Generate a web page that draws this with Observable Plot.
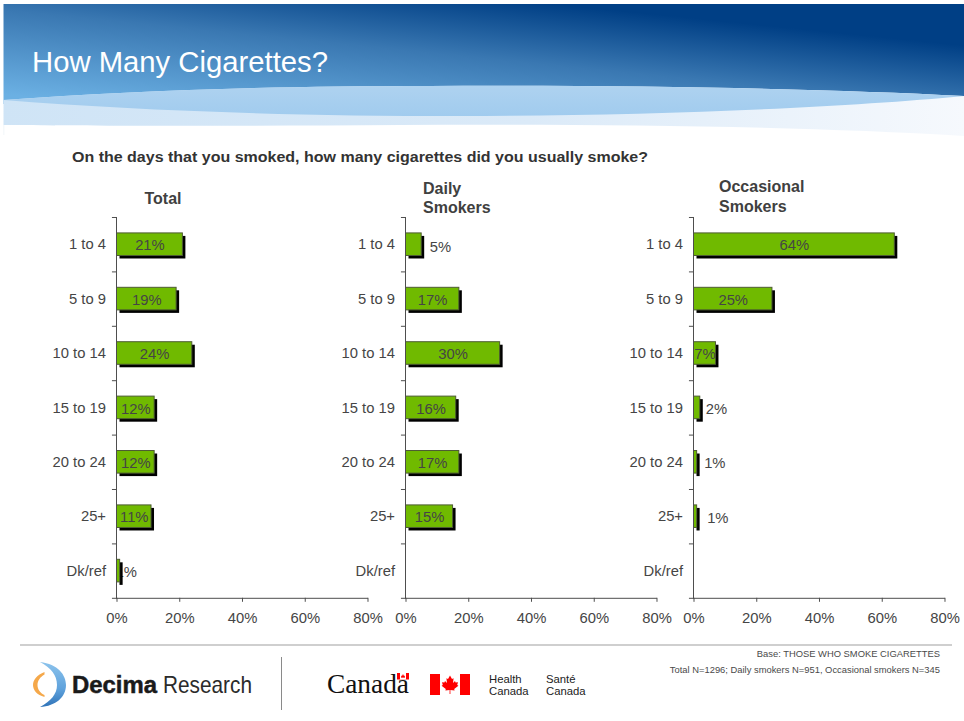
<!DOCTYPE html>
<html>
<head>
<meta charset="utf-8">
<title>How Many Cigarettes?</title>
<script src="https://cdn.jsdelivr.net/npm/d3@7"></script>
<script src="https://cdn.jsdelivr.net/npm/@observablehq/plot@0.6"></script>
<style>
  html, body { margin: 0; padding: 0; background: #fff; }
  #slide { position: relative; width: 964px; height: 721px; overflow: hidden; font-family: "Liberation Sans", Arial, sans-serif; }
  #backdrop { position: absolute; left: 0; top: 0; }
  .panel { position: absolute; width: 351px; }
  .panel svg { overflow: visible; background: none; max-width: none; }
</style>
</head>
<body>
<div id="slide">
<svg id="backdrop" width="964" height="721" viewBox="0 0 964 721" font-family="Liberation Sans, Arial, sans-serif">
  <defs>
    <linearGradient id="sky" gradientUnits="userSpaceOnUse" x1="100" y1="104" x2="114.5" y2="-40">
      <stop offset="0" stop-color="#6bb0e3"/>
      <stop offset="0.58" stop-color="#3a78b2"/>
      <stop offset="1" stop-color="#003f85"/>
    </linearGradient>
    <linearGradient id="mist" gradientUnits="userSpaceOnUse" x1="0" y1="0" x2="964" y2="0">
      <stop offset="0" stop-color="#cfe4f6"/>
      <stop offset="0.55" stop-color="#dbeaf8"/>
      <stop offset="1" stop-color="#f6f9fd"/>
    </linearGradient>
    <linearGradient id="swell" gradientUnits="userSpaceOnUse" x1="0" y1="86" x2="0" y2="118">
      <stop offset="0" stop-color="#aed2f0"/>
      <stop offset="1" stop-color="#a0cbee"/>
    </linearGradient>
    <linearGradient id="crescent" x1="0" y1="0" x2="0" y2="1">
      <stop offset="0" stop-color="#8cc3ec"/>
      <stop offset="0.6" stop-color="#5fa2dc"/>
      <stop offset="1" stop-color="#2f73b8"/>
    </linearGradient>
  </defs>

  <!-- header banner -->
  <rect x="3.5" y="4" width="960.5" height="100" fill="url(#sky)"/>
  <path d="M3.5 100 C 130 91 260 86 430 86 C 650 85 830 89 964 96 L964 136 C 800 126 600 124 400 125 C 250 126 100 126 3.5 125 Z" fill="url(#mist)"/>
  <path d="M3.5 100 C 130 91 260 86 430 86 C 650 85 830 89 964 96 C 840 108 640 116 460 116 C 280 116 130 110 3.5 100 Z" fill="url(#swell)"/>
  <rect x="3.5" y="125" width="0.8" height="10" fill="#eef3f8"/>
  <text x="32" y="72" fill="#fff" font-size="30" textLength="296" lengthAdjust="spacingAndGlyphs">How Many Cigarettes?</text>

  <!-- question and column headings -->
  <text x="72" y="162" fill="#333" font-size="14.3" font-weight="bold" textLength="576" lengthAdjust="spacingAndGlyphs">On the days that you smoked, how many cigarettes did you usually smoke?</text>
  <g fill="#404040" font-size="16" font-weight="bold">
    <text x="163" y="204" text-anchor="middle">Total</text>
    <text x="423" y="194">Daily</text>
    <text x="423" y="213">Smokers</text>
    <text x="719" y="192">Occasional</text>
    <text x="719" y="212">Smokers</text>
  </g>

  <!-- footer rule and source notes -->
  <rect x="20" y="644" width="932" height="2" fill="#cfcfcf"/>
  <g fill="#4a4a4a" font-size="9.4" text-anchor="end">
    <text x="940" y="657">Base: THOSE WHO SMOKE CIGARETTES</text>
    <text x="940" y="673">Total N=1296; Daily smokers N=951, Occasional smokers N=345</text>
  </g>

  <!-- Decima Research logo -->
  <path d="M40 662 C 58 664 66 675 66 685 C 66 697 56 706 40 707 C 51 701 57 694 57 685 C 57 675 51 668 40 662 Z" fill="url(#crescent)"/>
  <path d="M44.5 672 C 37 675 33 680 33 685 C 33 690 37 695 44.5 697 L 44.5 695 C 40 693 37.5 689 37.5 685 C 37.5 681 40 677 44.5 674.5 Z" fill="#f5a84a"/>
  <text x="72" y="693" fill="#1a1a1a" font-size="24" font-weight="bold" stroke="#1a1a1a" stroke-width="0.5" textLength="85" lengthAdjust="spacingAndGlyphs">Decima</text>
  <text x="163" y="693" fill="#2b2b2b" font-size="24" textLength="89" lengthAdjust="spacingAndGlyphs">Research</text>
  <rect x="281" y="657" width="1" height="53" fill="#8a8a8a"/>

  <!-- Government of Canada wordmark and flag -->
  <text x="327" y="693" fill="#111" font-family="Liberation Serif, serif" font-size="27" textLength="82" lengthAdjust="spacingAndGlyphs">Canada</text>
  <rect x="397" y="673" width="12" height="6.5" fill="#f00"/>
  <rect x="400" y="673" width="6" height="6.5" fill="#fff"/>
  <path d="M403 674 L404 676 L405 675.5 L404.6 678 L403 677.5 L401.4 678 L401 675.5 L402 676 Z" fill="#f00"/>
  <rect x="430" y="674" width="40" height="21" fill="#f00"/>
  <rect x="440" y="674" width="20" height="21" fill="#fff"/>
  <path d="M450 675.5 L452 679 L453.6 678.2 L453 683 L455 681 L455.6 682.6 L458 682.2 L457.2 685 L458.4 685.8 L454.2 689 L454.6 690.6 L450.4 690 L450.4 694 L449.6 694 L449.6 690 L445.4 690.6 L445.8 689 L441.6 685.8 L442.8 685 L442 682.2 L444.4 682.6 L445 681 L447 683 L446.4 678.2 L448 679 Z" fill="#f00"/>
  <g fill="#222" font-size="11.3">
    <text x="489" y="683">Health</text>
    <text x="489" y="695">Canada</text>
    <text x="546" y="683">Santé</text>
    <text x="546" y="695">Canada</text>
  </g>
</svg>
</div>

<script>
// Share of smokers by cigarettes smoked per day, one list per respondent group.
const categories = ["1 to 4", "5 to 9", "10 to 14", "15 to 19", "20 to 24", "25+", "Dk/ref"];
const totalValues = [21, 19, 24, 12, 12, 11, 1];
const dailyValues = [5, 17, 30, 16, 17, 15, null];
const occasionalValues = [64, 25, 7, 2, 1, 1, null];
const xTicks = [0, 20, 40, 60, 80];

const barGreen = "#70ba00";
const inkGrey = "#454545";
const axisGrey = "#4d4d4d";
const labelSize = 14.8;

// Geometry of one panel on the slide.
const plotWidth = 251;
const plotHeight = 380.8;
const plotTop = 216.7;
const marginLeft = 70;
const marginRight = 30;
const marginTop = 6;
const marginBottom = 40;
const bandStep = plotHeight / categories.length;
const smallestInsideValue = 7;

// Panel layouts: axis position and the offsets of labels set beside short bars.
const panels = [
  {values: totalValues, axisX: 116, offsets: {"Dk/ref": [-4.5, 1.5]}},
  {values: dailyValues, axisX: 405, offsets: {"1 to 4": [8, 3]}},
  {values: occasionalValues, axisX: 692.5, offsets: {"15 to 19": [5.5, 1.5], "20 to 24": [7, 1], "25+": [10, 1.5]}}
];

function panel({values, axisX, offsets}) {
  const rows = categories
    .map((category, i) => ({category, value: values[i]}))
    .filter((d) => d.value != null);
  const inside = rows.filter((d) => d.value >= smallestInsideValue);
  const outside = rows.filter((d) => d.value < smallestInsideValue);
  const percent = (d) => `${d.value}%`;

  const chart = Plot.plot({
    width: marginLeft + plotWidth + marginRight,
    height: marginTop + plotHeight + marginBottom,
    marginLeft,
    marginRight,
    marginTop,
    marginBottom,
    style: {background: "none", fontFamily: "Liberation Sans, Arial, sans-serif", fontSize: `${labelSize}px`, color: inkGrey},
    // The half-pixel shift keeps the axis line crisp while bars start on its centre.
    x: {domain: [0, 80], ticks: xTicks, range: [marginLeft + 0.5, marginLeft + plotWidth + 0.5]},
    y: {type: "band", domain: categories, paddingInner: 0.585, paddingOuter: 0.2925, round: false},
    marks: [
      // Labels beside short bars sit underneath them.
      outside.map((d) => Plot.text([d], {x: "value", y: "category", text: percent, textAnchor: "start", dx: offsets[d.category][0], dy: offsets[d.category][1], fill: inkGrey, fontSize: labelSize})),
      Plot.barX(rows, {x: "value", y: "category", fill: "#000", dx: 3, dy: 3}),
      Plot.barX(rows, {x: "value", y: "category", fill: barGreen, stroke: "#4e5c33", strokeWidth: 1}),
      Plot.text(inside, {x: (d) => d.value / 2, y: "category", text: percent, dy: 1, fill: inkGrey, fontSize: labelSize}),
      Plot.axisX({ticks: xTicks, tickFormat: (d) => `${d}%`, tickSize: 4, tickPadding: 10, stroke: axisGrey, fill: inkGrey, fontSize: labelSize, label: null}),
      Plot.axisY({tickSize: 0, tickPadding: 10.5, fill: inkGrey, fontSize: labelSize, label: null}),
      // Category separators fall on the band edges.
      Plot.ruleY(categories, {y: (d) => d, x1: -1.45, x2: 0, dy: bandStep / 2, stroke: axisGrey}),
      Plot.ruleY(categories.slice(0, 1), {y: (d) => d, x1: -1.45, x2: 0, dy: -bandStep / 2, stroke: axisGrey}),
      Plot.frame({anchor: "left", stroke: axisGrey}),
      Plot.frame({anchor: "bottom", stroke: axisGrey})
    ]
  });

  const holder = document.createElement("div");
  holder.className = "panel";
  holder.style.left = `${axisX - marginLeft}px`;
  holder.style.top = `${plotTop - marginTop}px`;
  holder.appendChild(chart);
  document.getElementById("slide").appendChild(holder);
}

panels.forEach(panel);
</script>
</body>
</html>
